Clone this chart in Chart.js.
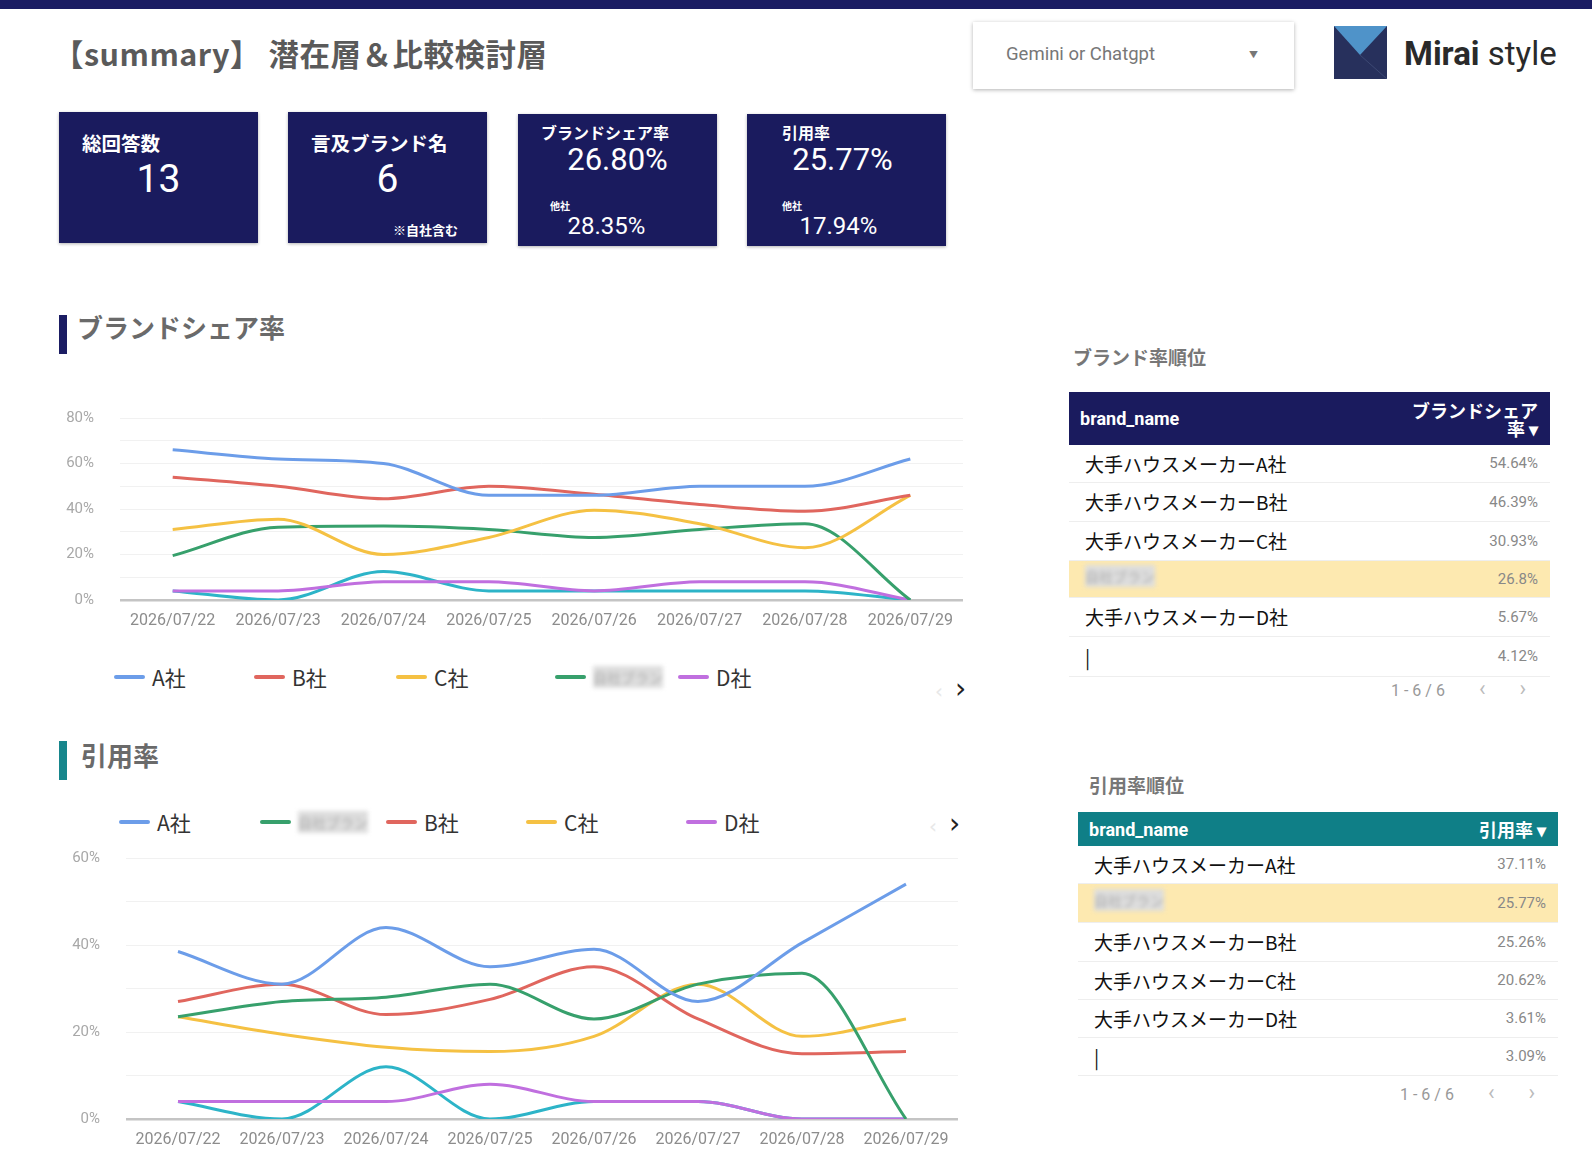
<!DOCTYPE html>
<html lang="ja">
<head>
<meta charset="utf-8">
<script src="https://cdn.jsdelivr.net/npm/chart.js@4.4.1/dist/chart.umd.min.js"></script>
<style>
  body { margin: 0; width: 1592px; height: 1160px; position: relative; overflow: hidden; background: #fff;
         font-family: "Noto Sans CJK JP", "Noto Sans", sans-serif; }
  .abs { position: absolute; }
  .topbar { left: 0; top: 0; width: 1592px; height: 9px; background: #1b1d63; }
  .title { left: 53px; top: 33px; font-size: 30.5px; line-height: 40px; font-weight: 700; color: #5a5a5a; letter-spacing: 0.5px; }
  .dropdown { left: 973px; top: 22px; width: 321px; height: 67px; background: #fff;
              box-shadow: 0 1px 4px rgba(0,0,0,0.3); }
  .dropdown span { position: absolute; left: 33px; top: 21px; font-family: Roboto, sans-serif; font-size: 18.5px; color: #777; }
  .dropdown i { position: absolute; right: 36px; top: 26px; font-style: normal; font-size: 9px; color: #777; }
  .logo { left: 1334px; top: 26px; width: 53px; height: 53px; background: #27305c; overflow: hidden; }
  .brand { left: 1404px; top: 34px; font-family: Roboto, sans-serif; font-size: 33px; line-height: 40px; color: #2a2a2a; }
  .kpi { background: #1a1b5e; color: #fff; box-shadow: 0 1px 3px rgba(0,0,0,0.3); }
  .kpi .lab { position: absolute; font-weight: 700; line-height: 1; }
  .kpi .num { position: absolute; font-family: Roboto, sans-serif; text-align: center; line-height: 1; }
  .sec { font-size: 26px; line-height: 36px; font-weight: 700; color: #6a6a6a; }
  .bar { width: 8px; height: 39px; }
  .legend { display: flex; align-items: center; font-size: 21px; line-height: 30px; color: #333; }
  .legend .item { display: flex; align-items: center; }
  .legend .ln { width: 31px; height: 4px; border-radius: 2px; margin-right: 7px; }
  .blur { display: inline-block; width: 70px; height: 22px; background: #ddd; color: #aaa; filter: blur(2px);
          font-size: 14px; line-height: 22px; overflow: hidden; }
  .arrow { font-family: "DejaVu Sans", sans-serif; font-size: 28px; line-height: 30px; color: #222; }
  .arrow .dim { color: #e8e8e8; margin-right: 12px; font-size: 20px; }
  .ttl { font-size: 19px; line-height: 26px; font-weight: 700; color: #777; }
  table { border-collapse: collapse; table-layout: fixed; }
  th { color: #fff; font-weight: 700; padding: 0 12px 0 11px; }
  th.l { text-align: left; font-family: Roboto, sans-serif; font-size: 18px; }
  th.r { text-align: right; font-size: 18px; line-height: 18px; white-space: nowrap; }
  td { border-bottom: 1px solid #eee; padding: 0 12px 0 16px; }
  td.n { font-size: 19px; color: #111; white-space: nowrap; }
  td.v { text-align: right; font-family: Roboto, sans-serif; font-size: 15px; color: #888; }
  tr.hi td { background: #fde9b0; }
  .pager { font-family: Roboto, sans-serif; font-size: 16px; line-height: 20px; color: #999; }
  .pager b { font-weight: 400; font-size: 22px; color: #bbb; margin-left: 34px; }
</style>
</head>
<body>
<div class="abs topbar"></div>
<div class="abs title">【summary】 潜在層＆比較検討層</div>
<div class="abs dropdown"><span>Gemini or Chatgpt</span><i>▼</i></div>
<div class="abs logo">
  <svg width="53" height="53"><polygon points="0,0 53,0 26,29" fill="#4f93c9"/><line x1="26" y1="29" x2="53" y2="53" stroke="#3d4874" stroke-width="1"/></svg>
</div>
<div class="abs brand"><b>Mirai</b> style</div>

<div class="abs kpi" style="left:59px;top:112px;width:199px;height:131px">
  <div class="lab" style="left:23px;top:21px;font-size:19.5px">総回答数</div>
  <div class="num" style="left:0;width:199px;top:48px;font-size:39px">13</div>
</div>
<div class="abs kpi" style="left:288px;top:112px;width:199px;height:131px">
  <div class="lab" style="left:23px;top:21px;font-size:19.5px">言及ブランド名</div>
  <div class="num" style="left:0;width:199px;top:48px;font-size:39px">6</div>
  <div class="lab" style="left:105px;top:111px;font-size:13px">※自社含む</div>
</div>
<div class="abs kpi" style="left:518px;top:114px;width:199px;height:132px">
  <div class="lab" style="left:23px;top:10px;font-size:16px">ブランドシェア率</div>
  <div class="num" style="left:0;width:199px;top:30px;font-size:31px">26.80%</div>
  <div class="lab" style="left:32px;top:87px;font-size:10px">他社</div>
  <div class="num" style="left:0;width:177px;top:100px;font-size:24px">28.35%</div>
</div>
<div class="abs kpi" style="left:747px;top:114px;width:199px;height:132px">
  <div class="lab" style="left:35px;top:10px;font-size:16px">引用率</div>
  <div class="num" style="left:0;width:191px;top:30px;font-size:31px">25.77%</div>
  <div class="lab" style="left:35px;top:87px;font-size:10px">他社</div>
  <div class="num" style="left:0;width:183px;top:100px;font-size:24px">17.94%</div>
</div>

<div class="abs bar" style="left:59px;top:315px;background:#1b1d63"></div>
<div class="abs sec" style="left:77px;top:309px">ブランドシェア率</div>
<div class="abs" style="left:55px;top:383px;width:918px;height:252px"><canvas id="shareChart"></canvas></div>
<div class="abs legend" id="shareLegend" style="left:114px;top:662px"></div>
<div class="abs arrow" style="left:935px;top:674px"><span class="dim">‹</span>›</div>

<div class="abs bar" style="left:59px;top:741px;background:#17868c"></div>
<div class="abs sec" style="left:81px;top:737px">引用率</div>
<div class="abs legend" id="citeLegend" style="left:119px;top:807px"></div>
<div class="abs arrow" style="left:929px;top:809px"><span class="dim">‹</span>›</div>
<div class="abs" style="left:55px;top:823px;width:913px;height:331px"><canvas id="citeChart"></canvas></div>

<div class="abs ttl" style="left:1073px;top:344px">ブランド率順位</div>
<table class="abs" id="shareTable" style="left:1069px;top:392px;width:481px"></table>
<div class="abs pager" style="left:1391px;top:679px">1 - 6 / 6<b>‹</b><b>›</b></div>

<div class="abs ttl" style="left:1089px;top:772px">引用率順位</div>
<table class="abs" id="citeTable" style="left:1078px;top:812px;width:480px"></table>
<div class="abs pager" style="left:1400px;top:1083px">1 - 6 / 6<b>‹</b><b>›</b></div>

<script>
// ---- data ----
const dates = ['2026/07/22', '2026/07/23', '2026/07/24', '2026/07/25', '2026/07/26', '2026/07/27', '2026/07/28', '2026/07/29'];
const selfLabel = '自社ブランド';

// brand share rate (%) per day
const shareA    = [66, 62, 60, 46, 46, 50, 50, 62];
const shareB    = [54, 50, 44.5, 50, 46.5, 42, 39, 46];
const shareC    = [31, 35.5, 20, 27.5, 39.5, 33.5, 23, 46];
const shareSelf = [19.5, 32, 32.5, 31, 27.5, 31, 33.5, 0];
const shareD    = [4, 4, 8, 8, 4, 8, 8, 0];
const shareE    = [4, 0, 12.5, 4, 4, 4, 4, 0];

// citation rate (%) per day
const citeA    = [38.5, 31, 44, 35, 39, 27, 40.5, 54];
const citeB    = [27, 31, 24, 27.5, 35, 23, 15, 15.5];
const citeC    = [23.5, 19.5, 16.5, 15.5, 19, 31, 19, 23];
const citeSelf = [23.5, 27, 28, 31, 23, 31, 33.5, 0];
const citeD    = [4, 4, 4, 8, 4, 4, 0, 0];
const citeE    = [4, 0, 12, 0, 4, 4, 0, 0];

// ranking tables
const shareRankNames  = ['大手ハウスメーカーA社', '大手ハウスメーカーB社', '大手ハウスメーカーC社', selfLabel, '大手ハウスメーカーD社', '|'];
const shareRankValues = [54.64, 46.39, 30.93, 26.8, 5.67, 4.12];
const citeRankNames   = ['大手ハウスメーカーA社', selfLabel, '大手ハウスメーカーB社', '大手ハウスメーカーC社', '大手ハウスメーカーD社', '|'];
const citeRankValues  = [37.11, 25.77, 25.26, 20.62, 3.61, 3.09];

const colors = { A: '#6c9de9', B: '#e0665e', C: '#f5c143', self: '#37a06c', D: '#c06fdf', E: '#2db4c8' };

function makeChart(id, sets, max, axisW) {
  let ctx = document.getElementById(id).getContext('2d');
  return new Chart(ctx, {
    type: 'line',
    data: {
      labels: dates,
      datasets: sets.map(function(s) {
        return {
          label: s[0], data: s[1], borderColor: s[2], backgroundColor: s[2],
          borderWidth: 3, pointRadius: 0, fill: false, cubicInterpolationMode: 'monotone'
        };
      })
    },
    options: {
      responsive: true,
      maintainAspectRatio: false,
      animation: false,
      layout: { padding: { top: 0, right: 10 } },
      plugins: { legend: { display: false }, tooltip: { enabled: false } },
      scales: {
        x: {
          offset: true,
          grid: { display: false },
          border: { display: false },
          ticks: { color: '#8c8c8c', font: { family: 'Roboto', size: 16 }, maxRotation: 0, autoSkip: false, padding: 3 }
        },
        y: {
          min: 0, max: max,
          border: { display: false },
          afterFit: function(scale) { scale.width = axisW; },
          grid: {
            drawTicks: false,
            color: function(c) { return c.tick.value === 0 ? '#c4c4c4' : '#f1f1f1'; },
            lineWidth: function(c) { return c.tick.value === 0 ? 2.5 : 1; }
          },
          ticks: {
            stepSize: 10, padding: 26, color: '#a8a8a8', font: { family: 'Roboto', size: 15 },
            callback: function(v) { return v % 20 === 0 ? v + '%' : ''; }
          }
        }
      }
    }
  });
}

function buildLegend(elId, chart, widths) {
  let el = document.getElementById(elId);
  chart.data.datasets.slice(0, widths.length + 1).forEach(function(ds, i) {
    let item = document.createElement('div');
    item.className = 'item';
    if (i < widths.length) item.style.width = widths[i] + 'px';
    let ln = document.createElement('span');
    ln.className = 'ln';
    ln.style.background = ds.borderColor;
    item.appendChild(ln);
    let txt = document.createElement('span');
    txt.textContent = ds.label;
    if (ds.label === selfLabel) txt.className = 'blur';
    item.appendChild(txt);
    el.appendChild(item);
  });
}

function buildTable(elId, headColor, headText, headH, names, values, rowHs) {
  let t = document.getElementById(elId);
  let html = '<colgroup><col style="width:66%"><col style="width:34%"></colgroup>';
  html += '<tr style="background:' + headColor + ';height:' + headH + 'px"><th class="l">brand_name</th><th class="r">' + headText + '</th></tr>';
  for (let i = 0; i < names.length; i++) {
    let self = names[i] === selfLabel;
    let name = self ? '<span class="blur">' + names[i] + '</span>' : names[i];
    html += '<tr class="' + (self ? 'hi' : '') + '" style="height:' + rowHs[i] + 'px"><td class="n">' + name +
            '</td><td class="v">' + values[i] + '%</td></tr>';
  }
  t.innerHTML = html;
}

let shareChart = makeChart('shareChart', [
  ['A社', shareA, colors.A], ['B社', shareB, colors.B], ['C社', shareC, colors.C],
  [selfLabel, shareSelf, colors.self], ['D社', shareD, colors.D], ['E社', shareE, colors.E]
], 80, 65);
buildLegend('shareLegend', shareChart, [140, 142, 159, 123]);

let citeChart = makeChart('citeChart', [
  ['A社', citeA, colors.A], [selfLabel, citeSelf, colors.self], ['B社', citeB, colors.B],
  ['C社', citeC, colors.C], ['D社', citeD, colors.D], ['E社', citeE, colors.E]
], 60, 71);
buildLegend('citeLegend', citeChart, [141, 126, 140, 160]);

buildTable('shareTable', '#1a1b5e', 'ブランドシェア<br>率 ▾', 53, shareRankNames, shareRankValues, [37, 39, 39, 37, 39, 40]);
buildTable('citeTable', '#0f7f87', '引用率 ▾', 34, citeRankNames, citeRankValues, [37, 39, 39, 38, 38, 38]);
</script>
</body>
</html>
